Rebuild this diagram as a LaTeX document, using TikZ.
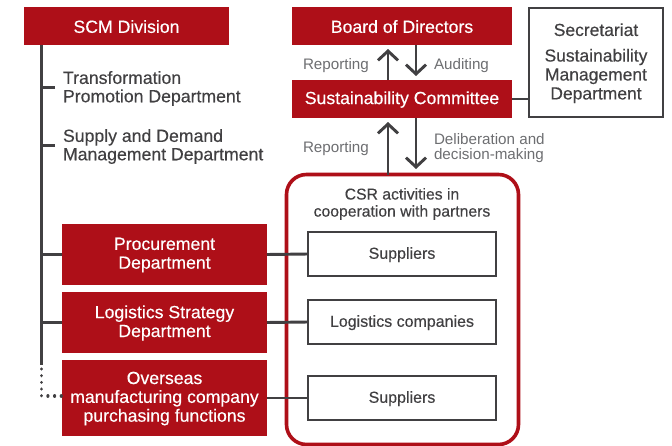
\documentclass[tikz,border=0pt]{standalone}
\usepackage{fontspec}
\setmainfont{Liberation Sans}
\newfontfamily\medf[RawFeature={embolden=0.35}]{Liberation Sans}
\usetikzlibrary{arrows.meta}
\definecolor{cred}{HTML}{AE0F18}
\definecolor{cdark}{HTML}{414042}
\definecolor{cgray}{HTML}{6D6E71}
\tikzset{
  x=0.75pt,y=-0.75pt,
  every node/.style={outer sep=0pt},
  redbox/.style={fill=cred,draw=none,anchor=north west,inner sep=0pt},
  redlabel/.style={text=white,inner sep=0pt,align=center,yshift=-0.4pt,font=\medf\fontsize{13.25pt}{14.1pt}\selectfont},
  whitebox/.style={draw=cdark,line width=1.2pt,fill=white,anchor=north west,inner sep=0pt},
  whitelabel/.style={text=cdark,inner sep=0pt,align=center,yshift=-0.5pt,font=\medf\fontsize{12pt}{14.2pt}\selectfont},
  darktext/.style={text=cdark,align=left,anchor=west,inner sep=0pt,font=\medf\fontsize{13.25pt}{13.8pt}\selectfont},
  graytext/.style={text=cgray,anchor=west,align=left,inner sep=0pt,font=\fontsize{11.4pt}{11.5pt}\selectfont},
  conn/.style={draw=cdark,line width=2.2pt},
  flow/.style={conn,-{Straight Barb[length=7pt,width=15pt,line width=2.2pt]}},
}
\newcommand{\rbox}[6]{\node[redbox,minimum width=#4*0.75pt,minimum height=#5*0.75pt] (#1) at (#2,#3) {};
  \node[redlabel] (#1text) at (#1.center) {#6};}
\newcommand{\wbox}[6]{\node[whitebox,minimum width=#4*0.75pt,minimum height=#5*0.75pt] (#1) at (#2,#3) {};
  \node[whitelabel] (#1text) at (#1.center) {#6};}
\begin{document}
\begin{tikzpicture}
\useasboundingbox (0,0) rectangle (672,446);
\begin{scope}
\clip (0,0) rectangle (672,446);
\node[draw=cred,line width=2.7pt,fill=white,rounded corners=15pt,minimum width=232*0.75pt,minimum height=270*0.75pt,anchor=north west,inner sep=0pt] (csr) at (286.5,174.5) {};
\end{scope}
\rbox{scm}{24}{7}{205}{38}{SCM Division}
\rbox{board}{292}{7}{220}{38}{Board of Directors}
\rbox{comm}{292}{80}{220}{38}{Sustainability Committee}
\rbox{proc}{62}{224}{205}{61}{Procurement\\Department}
\rbox{logi}{62}{292}{205}{61}{Logistics Strategy\\Department}
\rbox{over}{62}{360}{205}{76}{Overseas\\manufacturing company\\purchasing functions}
\node[whitebox,minimum width=134*0.75pt,minimum height=109*0.75pt] (sec) at (529,8) {};
\node[whitelabel,font=\medf\fontsize{13.1pt}{14.2pt}\selectfont] (sectext) at (sec.center) {Secretariat\\[5pt]Sustainability\\Management\\Department};
\wbox{sup1}{308}{232}{188}{44}{Suppliers}
\wbox{logc}{308}{300}{188}{44}{Logistics companies}
\wbox{sup2}{308}{376}{188}{44}{Suppliers}
\node[text=cdark,align=center,inner sep=0pt,font=\medf\fontsize{11.8pt}{12.8pt}\selectfont] (csrt) at (402,204) {CSR activities in\\cooperation with partners};
\node[darktext] (tp) at (63,88.5) {Transformation\\Promotion Department};
\node[darktext] (sd) at (63,146.5) {Supply and Demand\\Management Department};
\node[graytext] (r1) at (303,65.5) {Reporting};
\node[graytext] (a1) at (434,65.5) {Auditing};
\node[graytext] (r2) at (303,148.5) {Reporting};
\node[graytext] (dd) at (434,148) {Deliberation and\\decision-making};
\coordinate (ttop) at (41.5,45);
\coordinate (tend) at (41.5,365);
\coordinate (dstart) at (41.5,369);
\coordinate (dend) at (41.5,396);
\draw[conn] (ttop) -- (tend);
\draw[draw=cdark,line width=2.4pt,line cap=round,dash pattern=on 0.01pt off 5pt] (dstart) -- (dend) -- (over.west |- dend);
\coordinate (t1) at (55,87.5);
\coordinate (t2) at (55,145.5);
\draw[conn] (t1) -- (t1 -| ttop);
\draw[conn] (t2) -- (t2 -| ttop);
\draw[conn] (proc.west) -- (proc.west -| ttop);
\draw[conn] (logi.west) -- (logi.west -| ttop);
\draw[conn] (proc.east) -- (sup1.west);
\draw[conn] (logi.east) -- (logc.west);
\draw[conn] (over.east |- sup2.west) -- (sup2.west);
\draw[conn] (comm.east) -- (comm.east -| sec.west);
\coordinate (ux) at (388,0);
\coordinate (dx) at (416,0);
\draw[flow] (ux |- comm.north) -- (ux |- 0,49);
\draw[flow] (dx |- board.south) -- (dx |- 0,76);
\draw[flow] (ux |- csr.north) -- (ux |- 0,122);
\draw[flow] (dx |- comm.south) -- (dx |- 0,169);
\end{tikzpicture}
\end{document}
